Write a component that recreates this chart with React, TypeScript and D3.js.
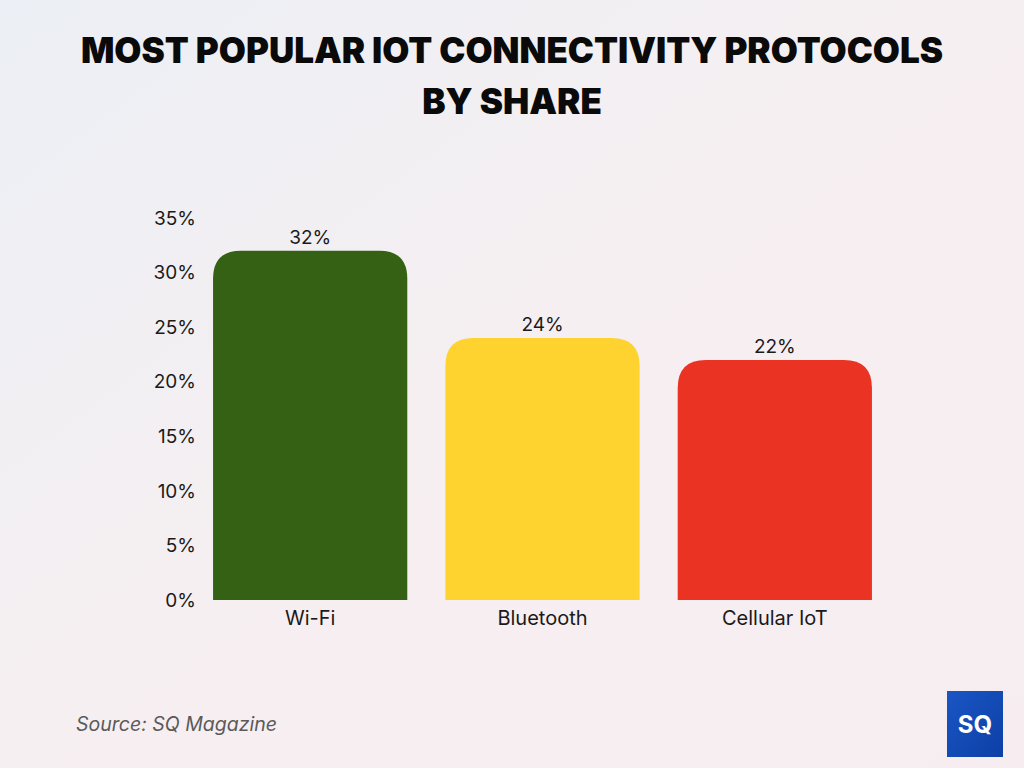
import { useEffect, useRef } from "react";
import * as d3 from "d3";

const categories = ["Wi-Fi", "Bluetooth", "Cellular IoT"];
const shares = [32, 24, 22];
const barColors = ["#346114", "#fed330", "#ea3323"];
const yTicks = [0, 5, 10, 15, 20, 25, 30, 35];
const titleLines = ["MOST POPULAR IOT CONNECTIVITY PROTOCOLS", "BY SHARE"];

const W = 1024;
const H = 768;

function topRoundedBar(x: number, y: number, w: number, h: number, r: number) {
  const rr = Math.min(r, h, w / 2);
  return `M${x},${y + h}V${y + rr}Q${x},${y} ${x + rr},${y}H${x + w - rr}Q${x + w},${y} ${x + w},${y + rr}V${y + h}Z`;
}

export default function App() {
  const ref = useRef<SVGSVGElement>(null);

  useEffect(() => {
    const svg = d3.select(ref.current);
    svg.selectAll("*").remove();

    const defs = svg.append("defs");
    const grad = defs
      .append("linearGradient")
      .attr("id", "bg")
      .attr("x1", "0")
      .attr("y1", "0")
      .attr("x2", "1")
      .attr("y2", "1");
    grad.append("stop").attr("offset", "0%").attr("stop-color", "#eceff5");
    grad.append("stop").attr("offset", "50%").attr("stop-color", "#f6eff1");
    grad.append("stop").attr("offset", "100%").attr("stop-color", "#f7edf1");

    const logoGrad = defs
      .append("linearGradient")
      .attr("id", "logo")
      .attr("x1", "0")
      .attr("y1", "0")
      .attr("x2", "1")
      .attr("y2", "1");
    logoGrad.append("stop").attr("offset", "0%").attr("stop-color", "#1a56c4");
    logoGrad.append("stop").attr("offset", "100%").attr("stop-color", "#0d3fa6");

    svg.append("rect").attr("width", W).attr("height", H).attr("fill", "url(#bg)");

    // title
    svg
      .append("g")
      .selectAll("text")
      .data(titleLines)
      .enter()
      .append("text")
      .attr("x", W / 2)
      .attr("y", (_, i) => 63 + i * 51)
      .attr("text-anchor", "middle")
      .attr("font-family", "Inter, 'DejaVu Sans', sans-serif")
      .attr("font-weight", 900)
      .attr("font-size", 35)
      .attr("fill", "#0a0a0a")
      .text((d) => d);

    const x = d3
      .scaleBand()
      .domain(categories)
      .range([194, 891])
      .paddingInner(0.164)
      .paddingOuter(0.082);

    const y = d3.scaleLinear().domain([0, 35]).range([600, 218]);

    const font = "Inter, 'Open Sans', sans-serif";

    // y axis labels
    svg
      .append("g")
      .selectAll("text")
      .data(yTicks)
      .enter()
      .append("text")
      .attr("x", 196)
      .attr("y", (d) => y(d))
      .attr("dy", "0.35em")
      .attr("text-anchor", "end")
      .attr("font-family", font)
      .attr("font-size", 19)
      .attr("fill", "#1a1a1a")
      .text((d) => `${d}%`);

    const data = categories.map((c, i) => ({ c, v: shares[i], color: barColors[i] }));

    const g = svg.append("g").selectAll("g").data(data).enter().append("g");

    g.append("path")
      .attr("d", (d) =>
        topRoundedBar(x(d.c)!, y(d.v), x.bandwidth(), y(0) - y(d.v), 28)
      )
      .attr("fill", (d) => d.color);

    g.append("text")
      .attr("x", (d) => x(d.c)! + x.bandwidth() / 2)
      .attr("y", (d) => y(d.v) - 7)
      .attr("text-anchor", "middle")
      .attr("font-family", font)
      .attr("font-size", 19)
      .attr("fill", "#1a1a1a")
      .text((d) => `${d.v}%`);

    g.append("text")
      .attr("x", (d) => x(d.c)! + x.bandwidth() / 2)
      .attr("y", 625)
      .attr("text-anchor", "middle")
      .attr("font-family", font)
      .attr("font-size", 20)
      .attr("fill", "#1a1a1a")
      .text((d) => d.c);

    // source
    svg
      .append("text")
      .attr("x", 76)
      .attr("y", 731)
      .attr("font-family", font)
      .attr("font-style", "italic")
      .attr("font-size", 19.5)
      .attr("fill", "#5a5a5a")
      .text("Source: SQ Magazine");

    // logo
    svg
      .append("rect")
      .attr("x", 947)
      .attr("y", 691)
      .attr("width", 56)
      .attr("height", 66)
      .attr("fill", "url(#logo)");
    svg
      .append("text")
      .attr("x", 975)
      .attr("y", 733)
      .attr("text-anchor", "middle")
      .attr("font-family", "Inter, sans-serif")
      .attr("font-weight", 700)
      .attr("font-size", 24)
      .attr("fill", "#ffffff")
      .text("SQ");
  }, []);

  return (
    <svg
      ref={ref}
      width={W}
      height={H}
      style={{ position: "absolute", left: 0, top: 0 }}
    />
  );
}
